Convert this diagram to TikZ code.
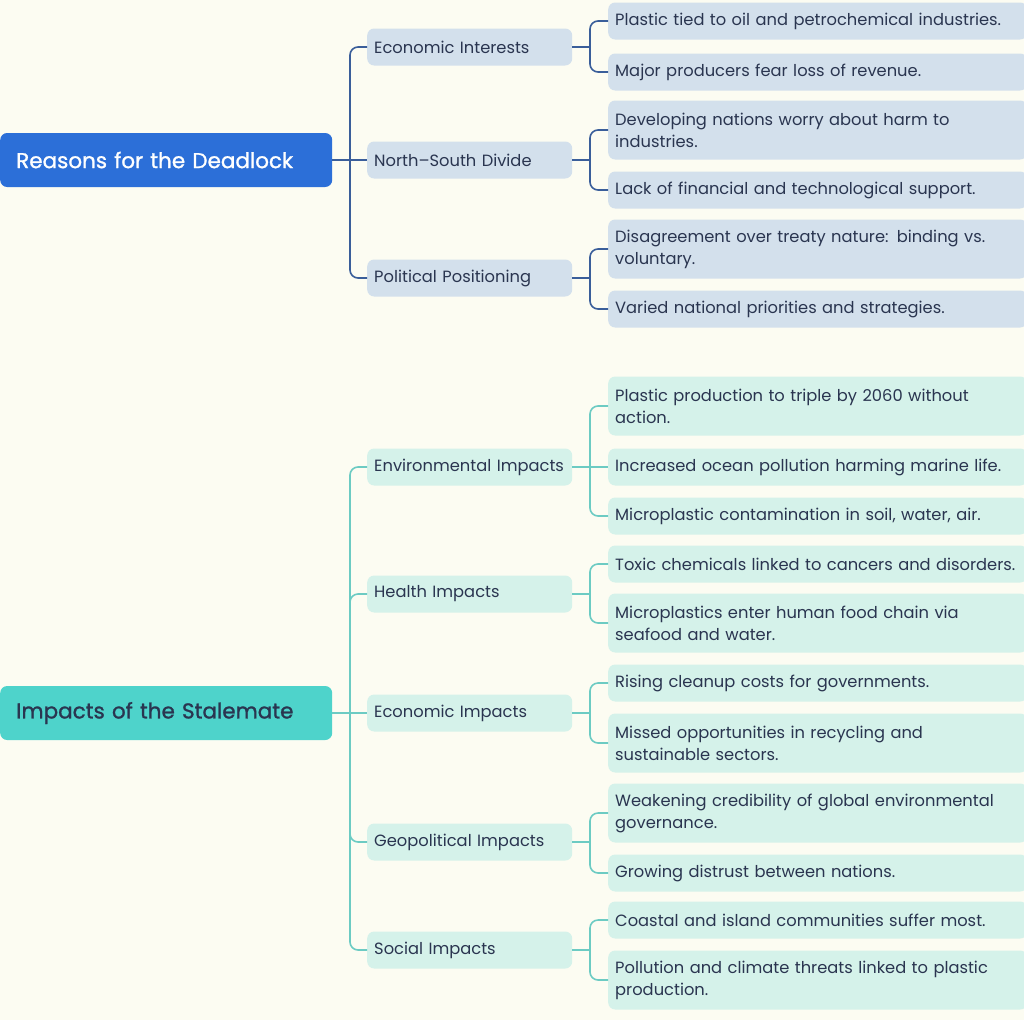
\documentclass[tikz,border=0pt]{standalone}
\usepackage{fontspec}
\setmainfont{Poppins}
\newfontfamily\rootfont[FakeBold=1.2]{Poppins}
\definecolor{bg}{HTML}{FCFCF2}
\definecolor{bdark}{HTML}{2C6FD8}
\definecolor{bline}{HTML}{3A5E9A}
\definecolor{bfill}{HTML}{D3E0EC}
\definecolor{tdark}{HTML}{4ED3CB}
\definecolor{tline}{HTML}{6CCBC3}
\definecolor{tfill}{HTML}{D5F2EA}
\definecolor{txt}{HTML}{2A3550}
\begin{document}
\begin{tikzpicture}[x=1pt,y=-1pt,
 base/.style={rounded corners=7pt,inner xsep=7pt,anchor=west,font=\fontsize{16.3}{22}\selectfont,text=txt,align=left},
 root/.style={base,minimum width=332pt,minimum height=54pt,font=\fontsize{21.5}{24}\selectfont\rootfont,inner xsep=16pt,text width=300pt},
 mid/.style={base,minimum width=205pt,minimum height=37pt,text width=191pt},
 leaf/.style={base,minimum width=415pt,minimum height=37pt,text width=405pt},
 bl/.style={draw=bline,line width=1.6pt,rounded corners=8pt},
 tl/.style={draw=tline,line width=1.6pt,rounded corners=8pt}]
\fill[bg] (0,0) rectangle (1024,1020);
\useasboundingbox (0,0) rectangle (1024,1020);
% roots
\node[root,fill=bdark,text=white] (r1) at (0,160) {Reasons for the Deadlock};
\node[root,fill=tdark] (r2) at (0,713) {Impacts of the Stalemate};
% blue mids
\node[mid,fill=bfill] (m1) at (367,47) {Economic Interests};
\node[mid,fill=bfill] (m2) at (367,160) {North–South Divide};
\node[mid,fill=bfill] (m3) at (367,278) {Political Positioning};
\node[leaf,fill=bfill] (l1) at (608,21) {Plastic tied to oil and petrochemical industries.};
\node[leaf,fill=bfill] (l2) at (608,72) {Major producers fear loss of revenue.};
\node[leaf,fill=bfill,minimum height=59pt] (l3) at (608,130) {Developing nations worry about harm to\\industries.};
\node[leaf,fill=bfill] (l4) at (608,190) {Lack of financial and technological support.};
\node[leaf,fill=bfill,minimum height=59pt] (l5) at (608,249) {Disagreement over treaty nature: binding vs.\\voluntary.};
\node[leaf,fill=bfill] (l6) at (608,309) {Varied national priorities and strategies.};
% teal mids
\node[mid,fill=tfill] (n1) at (367,467) {Environmental Impacts};
\node[mid,fill=tfill] (n2) at (367,594) {Health Impacts};
\node[mid,fill=tfill] (n3) at (367,713) {Economic Impacts};
\node[mid,fill=tfill] (n4) at (367,842) {Geopolitical Impacts};
\node[mid,fill=tfill] (n5) at (367,950) {Social Impacts};
\node[leaf,fill=tfill,minimum height=59pt] (k1) at (608,406) {Plastic production to triple by 2060 without\\action.};
\node[leaf,fill=tfill] (k2) at (608,467) {Increased ocean pollution harming marine life.};
\node[leaf,fill=tfill] (k3) at (608,516) {Microplastic contamination in soil, water, air.};
\node[leaf,fill=tfill] (k4) at (608,564) {\mbox{Toxic chemicals linked to cancers and disorders.}};
\node[leaf,fill=tfill,minimum height=59pt] (k5) at (608,623) {Microplastics enter human food chain via\\seafood and water.};
\node[leaf,fill=tfill] (k6) at (608,683) {Rising cleanup costs for governments.};
\node[leaf,fill=tfill,minimum height=59pt] (k7) at (608,743) {Missed opportunities in recycling and\\sustainable sectors.};
\node[leaf,fill=tfill,minimum height=59pt] (k8) at (608,813) {Weakening credibility of global environmental\\governance.};
\node[leaf,fill=tfill] (k9) at (608,873) {Growing distrust between nations.};
\node[leaf,fill=tfill] (k10) at (608,920) {Coastal and island communities suffer most.};
\node[leaf,fill=tfill,minimum height=59pt] (k11) at (608,980) {Pollution and climate threats linked to plastic\\production.};
% connectors
\draw[bl] (r1.east) -- (m2.west);
\foreach \m in {m1,m3} \draw[bl] (350,160) |- (\m.west);
\draw[bl] (m1.east) -- (590,47); \foreach \l in {l1,l2} \draw[bl] (590,47) |- (\l.west);
\draw[bl] (m2.east) -- (590,160); \foreach \l in {l3,l4} \draw[bl] (590,160) |- (\l.west);
\draw[bl] (m3.east) -- (590,278); \foreach \l in {l5,l6} \draw[bl] (590,278) |- (\l.west);
\draw[tl] (r2.east) -- (n3.west);
\foreach \m in {n1,n2,n4,n5} \draw[tl] (350,713) |- (\m.west);
\draw[tl] (n1.east) -- (k2.west); \foreach \l in {k1,k3} \draw[tl] (590,467) |- (\l.west);
\draw[tl] (n2.east) -- (590,594); \foreach \l in {k4,k5} \draw[tl] (590,594) |- (\l.west);
\draw[tl] (n3.east) -- (590,713); \foreach \l in {k6,k7} \draw[tl] (590,713) |- (\l.west);
\draw[tl] (n4.east) -- (590,842); \foreach \l in {k8,k9} \draw[tl] (590,842) |- (\l.west);
\draw[tl] (n5.east) -- (590,950); \foreach \l in {k10,k11} \draw[tl] (590,950) |- (\l.west);
\end{tikzpicture}
\end{document}
